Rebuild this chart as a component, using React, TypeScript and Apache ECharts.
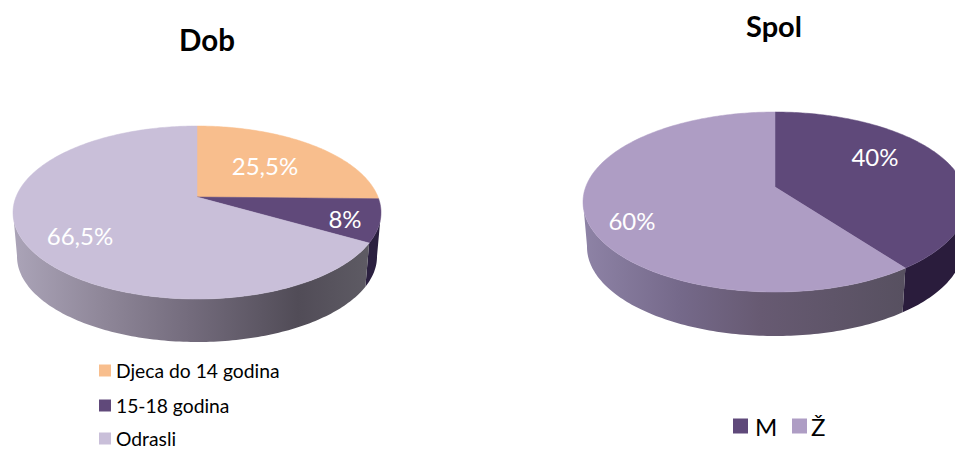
import React, { useEffect, useRef } from "react";
import * as echarts from "echarts";

const dobCategories = ["Djeca do 14 godina", "15-18 godina", "Odrasli"];
const dobValues = [25.5, 8, 66.5];
const spolCategories = ["M", "Ž"];
const spolValues = [40, 60];

const dobColors = ["#F8BE8D", "#60497A", "#C9BFD9"];
const spolColors = ["#5F497A", "#AE9DC4"];
const FONT = "Lato";

const dobPie = { cx: 197, cy: 212.5, rx: 184, ry: 86.5, apexY: 197, depth: 43, inset: 4, k: 0.825 };
const spolPie = { cx: 775, cy: 202, rx: 192, ry: 90, apexY: 187, depth: 44, inset: 4, k: 0.83 };
const dobLabelAt = [[265, 165], [345, 218], [80, 235]];
const spolLabelAt = [[875, 156], [632, 220]];
const dobLegendTops = [361, 396, 429];
const spolLegendLefts = [733, 792];
const spolLegendPads = [2, -1];

const grad = (stops: [number, string][]) =>
  new echarts.graphic.LinearGradient(0, 0, 1, 0, stops.map(([offset, color]) => ({ offset, color })));

const dobWalls = [
  "#3A2C4E",
  "#2B2040",
  grad([[0, "#ABA4B8"], [0.25, "#8F8799"], [0.5, "#736B7C"], [0.8, "#514C57"], [1, "#5E5B64"]]),
];
const spolWalls = [
  "#2A1C3C",
  grad([[0, "#8E83A6"], [0.3, "#75698A"], [0.55, "#675A72"], [1, "#575060"]]),
];

const rad = (d: number) => (d * Math.PI) / 180;

function makeSeries(pie: any, names: string[], values: number[], colors: string[], walls: any[], labelAt: number[][]) {
  const total = values.reduce((a, b) => a + b, 0);
  let acc = 0;
  return names.map((name, i) => {
    const start = (acc / total) * 360;
    acc += values[i];
    const end = (acc / total) * 360;
    const toT = (th: number) => 2 * Math.atan2(pie.k * Math.sin(rad(th) / 2), Math.cos(rad(th) / 2));
    const topPt = (t: number) => [pie.cx + pie.rx * Math.sin(t), pie.cy - pie.ry * Math.cos(t)];
    const botPt = (t: number) => {
      const ry2 = pie.ry - 1;
      return [pie.cx + (pie.rx - pie.inset) * Math.sin(t), pie.cy + pie.depth + 1 - ry2 * Math.cos(t)];
    };
    return {
      type: "custom",
      name,
      coordinateSystem: "none",
      itemStyle: { color: colors[i] },
      data: [[values[i]]],
      silent: true,
      renderItem: () => {
        const ts: number[] = [];
        for (let th = start; th < end; th += 1) ts.push(toT(th));
        ts.push(toT(end));
        const top = [[pie.cx, pie.apexY], ...ts.map(topPt)];
        const visible = ts.filter((t) => t >= Math.PI / 2 - 0.02 && t <= (3 * Math.PI) / 2 + 0.02);
        const children: any[] = [];
        if (visible.length > 1) {
          children.push({
            type: "polygon",
            shape: { points: [...visible.map(topPt), ...visible.slice().reverse().map(botPt)] },
            style: { fill: walls[i], stroke: null },
          });
        }
        children.push({
          type: "polygon",
          shape: { points: top },
          style: { fill: colors[i], stroke: colors[i], lineWidth: 0.5 },
        });
        children.push({
          type: "text",
          z2: 10,
          style: {
            x: labelAt[i][0],
            y: labelAt[i][1],
            text: String(values[i]).replace(".", ",") + "%",
            fill: "#FFFFFF",
            font: `24px ${FONT}`,
            align: "center",
            verticalAlign: "middle",
          },
        });
        return { type: "group", children };
      },
    };
  });
}

export default function App() {
  const ref = useRef<HTMLDivElement>(null);
  useEffect(() => {
    document.body.style.margin = "0";
    document.body.style.overflow = "hidden";
    const chart = echarts.init(ref.current!, null, { renderer: "svg" });
    chart.setOption({
      animation: false,
      backgroundColor: "#FFFFFF",
      title: [
        { text: "Dob", left: 202, top: 19, textAlign: "center", textStyle: { fontFamily: FONT, fontSize: 29.5, fontWeight: "bold", color: "#000" } },
        { text: "Spol", left: 769, top: 6, textAlign: "center", textStyle: { fontFamily: FONT, fontSize: 29, fontWeight: "bold", color: "#000" } },
      ],
      legend: [
        ...dobCategories.map((name, i) => ({
          data: [name],
          left: 99,
          top: dobLegendTops[i],
          padding: 0,
          icon: "rect",
          itemWidth: 12,
          itemHeight: 12,
          selectedMode: false,
          textStyle: { fontFamily: FONT, fontSize: 19.3, color: "#000", lineHeight: 16 },
        })),
        ...spolCategories.map((name, i) => ({
          data: [name],
          left: spolLegendLefts[i],
          top: 414,
          padding: 0,
          icon: "rect",
          itemWidth: 15,
          itemHeight: 15,
          selectedMode: false,
          textStyle: { fontFamily: FONT, fontSize: 24, color: "#000", lineHeight: 24, padding: [0, 0, 0, spolLegendPads[i]] },
        })),
      ],
      series: [
        ...makeSeries(dobPie, dobCategories, dobValues, dobColors, dobWalls, dobLabelAt),
        ...makeSeries(spolPie, spolCategories, spolValues, spolColors, spolWalls, spolLabelAt),
      ],
    });
    return () => chart.dispose();
  }, []);
  return <div ref={ref} style={{ position: "absolute", left: 0, top: 0, width: 955, height: 449 }} />;
}
